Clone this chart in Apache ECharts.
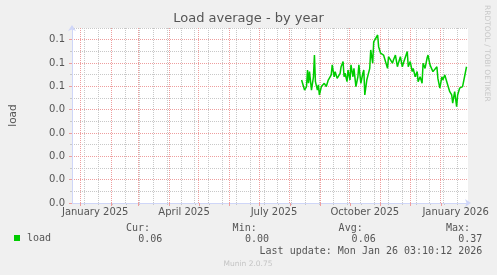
<!DOCTYPE html>
<html><head><meta charset="utf-8">
<script src="https://cdn.jsdelivr.net/npm/echarts@6/dist/echarts.min.js"></script>
<style>html,body{margin:0;padding:0;background:#f0f0f0}#c{width:497px;height:275px}</style>
</head><body><div id="c"></div>
<script>
// ---------- data ----------
const loadDates = [
'2025-08-13','2025-08-15','2025-08-16','2025-08-18','2025-08-19','2025-08-20','2025-08-21','2025-08-23','2025-08-25','2025-08-26',
'2025-08-27','2025-08-29','2025-08-30','2025-08-31','2025-09-02','2025-09-04','2025-09-05','2025-09-07','2025-09-09','2025-09-10',
'2025-09-12','2025-09-13','2025-09-15','2025-09-16','2025-09-18','2025-09-20','2025-09-21','2025-09-22','2025-09-24','2025-09-25',
'2025-09-26','2025-09-28','2025-09-29','2025-10-01','2025-10-02','2025-10-04','2025-10-05','2025-10-07','2025-10-09','2025-10-10',
'2025-10-12','2025-10-14','2025-10-15','2025-10-16','2025-10-18','2025-10-19','2025-10-21','2025-10-22','2025-10-24','2025-10-25',
'2025-10-27','2025-10-29','2025-10-30','2025-11-01','2025-11-03','2025-11-04','2025-11-06','2025-11-08','2025-11-09','2025-11-11',
'2025-11-13','2025-11-14','2025-11-16','2025-11-18','2025-11-19','2025-11-21','2025-11-23','2025-11-24','2025-11-26','2025-11-28',
'2025-11-29','2025-12-01','2025-12-03','2025-12-04','2025-12-06','2025-12-08','2025-12-09','2025-12-11','2025-12-13','2025-12-14',
'2025-12-16','2025-12-18','2025-12-19','2025-12-21','2025-12-23','2025-12-24','2025-12-26','2025-12-28','2025-12-29','2025-12-31',
'2026-01-02','2026-01-03','2026-01-05','2026-01-07','2026-01-08','2026-01-10','2026-01-12','2026-01-13','2026-01-15','2026-01-17',
'2026-01-18','2026-01-20','2026-01-22','2026-01-23','2026-01-25','2026-01-27'];
const loadValues = [
0.0527,0.0520,0.0484,0.0499,0.0570,0.0513,0.0563,0.0484,0.0541,0.0634,
0.0520,0.0484,0.0506,0.0463,0.0499,0.0492,0.0513,0.0499,0.0527,0.0527,
0.0549,0.0592,0.0541,0.0563,0.0534,0.0541,0.0556,0.0584,0.0606,0.0541,
0.0556,0.0520,0.0570,0.0527,0.0592,0.0541,0.0577,0.0499,0.0541,0.0592,
0.0513,0.0556,0.0570,0.0463,0.0527,0.0527,0.0577,0.0656,0.0599,0.0691,
0.0684,0.0720,0.0670,0.0642,0.0649,0.0634,0.0627,0.0577,0.0627,0.0634,
0.0599,0.0613,0.0634,0.0584,0.0599,0.0627,0.0584,0.0599,0.0606,0.0649,
0.0584,0.0606,0.0563,0.0577,0.0541,0.0563,0.0520,0.0541,0.0513,0.0599,
0.0577,0.0620,0.0634,0.0592,0.0599,0.0563,0.0556,0.0584,0.0534,0.0492,
0.0541,0.0527,0.0549,0.0520,0.0527,0.0477,0.0463,0.0428,0.0477,0.0413,
0.0463,0.0492,0.0484,0.0499,0.0541,0.0584];

const axisStart = '2024-12-23T12:00';
const axisEnd = '2026-01-28T12:00';
const monthStarts = ['2025-01-01','2025-02-01','2025-03-01','2025-04-01','2025-05-01','2025-06-01','2025-07-01',
  '2025-08-01','2025-09-01','2025-10-01','2025-11-01','2025-12-01','2026-01-01'];
const biweeklyMarks = ['2025-01-05','2025-01-19','2025-02-02','2025-02-16','2025-03-02','2025-03-16','2025-03-30',
  '2025-04-13','2025-04-27','2025-05-11','2025-05-25','2025-06-08','2025-06-22','2025-07-06','2025-07-20',
  '2025-08-03','2025-08-17','2025-08-31','2025-09-14','2025-09-28','2025-10-12','2025-10-26','2025-11-09',
  '2025-11-23','2025-12-07','2025-12-21','2026-01-04','2026-01-18'];
const quarterLabelDates = ['2025-01-16','2025-04-16','2025-07-16','2025-10-16','2026-01-16'];
const quarterLabels = ['January 2025','April 2025','July 2025','October 2025','January 2026'];

const yMajorTicks = [0.01,0.02,0.03,0.04,0.05,0.06,0.07];
const yMinorTicks = [0.005,0.015,0.025,0.035,0.045,0.055,0.065,0.075];
const yLabelTicks = [0,0.01,0.02,0.03,0.04,0.05,0.06,0.07];
const yTickLabels = ['0.0','0.0','0.0','0.0','0.0','0.1','0.1','0.1'];
const yMax = 0.075;

const seriesName = 'load';
const statHeaders = ['Cur:','Min:','Avg:','Max:'];
const statValues = ['0.06','0.00','0.06','0.37'];
const lastUpdate = 'Last update: Mon Jan 26 03:10:12 2026';
const footer = 'Munin 2.0.75';
const sideText = 'RRDTOOL / TOBI OETIKER';
const titleText = 'Load average - by year';

// ---------- helpers ----------
function ts(s){
  const [d,t] = s.split('T');
  const [y,m,dd] = d.split('-').map(Number);
  let h = 0, mi = 0;
  if (t) { [h,mi] = t.split(':').map(Number); }
  return Date.UTC(y, m-1, dd, h, mi);
}
const labelMap = {};
quarterLabelDates.forEach((d,i)=>{ labelMap[ts(d)] = quarterLabels[i]; });

const MAJ = '#ee9e9e';
const MINC = '#c8c8c8';
const AXC = '#cfd6f8';
const FONT = 'DejaVu Sans';
const MONO = 'DejaVu Sans Mono';
const TXT = '#555555';

const chart = echarts.init(document.getElementById('c'), null, {renderer:'canvas'});

const statX = [150, 256.7, 362.7, 470];
const valX = [162.3, 269, 375.7, 482.3];
const graphics = [];
statHeaders.forEach((h,i)=>graphics.push({type:'text', x:statX[i], y:228,
  style:{text:h, fill:TXT, font:'10px "'+MONO+'"', textAlign:'right', textVerticalAlign:'middle'}}));
statValues.forEach((v,i)=>graphics.push({type:'text', x:valX[i], y:239.5,
  style:{text:v, fill:TXT, font:'10px "'+MONO+'"', textAlign:'right', textVerticalAlign:'middle'}}));
graphics.push({type:'text', x:482.3, y:251,
  style:{text:lastUpdate, fill:TXT, font:'10px "'+MONO+'"', textAlign:'right', textVerticalAlign:'middle'}});
graphics.push({type:'text', x:248, y:264.5,
  style:{text:footer, fill:'#c4c4c4', font:'7.5px "'+FONT+'"', textAlign:'center', textVerticalAlign:'middle'}});
graphics.push({type:'text', x:487, y:5, rotation:-Math.PI/2,
  style:{text:sideText, fill:'#c8c8c8', font:'7.5px "'+FONT+'"', textAlign:'left', textVerticalAlign:'middle'}});

// grid lines drawn as a custom series through the axes' scales, snapped to whole pixels
function gridSeries(name, color, xs, ys, z){
  const data = [...xs.map(v=>[v, 0, 0]), ...ys.map(v=>[ts(axisStart), v, 1])];
  return {
    name:name, type:'custom', data:data, xAxisIndex:0, yAxisIndex:0, z:z, silent:true, clip:false,
    encode:{x:0, y:1},
    renderItem:function(params, api){
      const cs = params.coordSys;
      const horiz = api.value(2) === 1;
      let shape;
      if (!horiz) {
        const x = Math.round(api.coord([api.value(0), 0])[0] - 0.5) + 0.5;
        shape = {x1:x, y1:cs.y, x2:x, y2:cs.y + cs.height};
      } else {
        const y = Math.round(api.coord([ts(axisStart), api.value(1)])[1] - 0.5) + 0.5;
        shape = {x1:cs.x, y1:y, x2:cs.x + cs.width, y2:y};
      }
      return {type:'line', shape:shape, silent:true,
        style:{stroke:color, lineWidth:1, lineDash:[1,1]}};
    }
  };
}

const option = {
  backgroundColor:'#f0f0f0',
  animation:false,
  title:{text:titleText, left:'center', top:12, padding:0,
    textStyle:{fontFamily:FONT, fontSize:13, fontWeight:'normal', color:'#555555'}},
  legend:{data:[seriesName], left:14, top:233, padding:0, icon:'rect', itemWidth:6, itemHeight:6,
    textStyle:{fontFamily:MONO, fontSize:10, color:TXT, padding:[0,0,0,2]}},
  grid:{left:67, right:29, top:28, bottom:72, show:true, backgroundColor:'#ffffff', borderWidth:0},
  xAxis:[
    {type:'value', min:ts(axisStart), max:ts(axisEnd), position:'bottom', z:3,
      axisLine:{show:true, lineStyle:{color:AXC, width:1}, symbol:['none','arrow'], symbolSize:[6,6], symbolOffset:[0,3]},
      axisTick:{show:true, customValues:monthStarts.map(ts), length:3, lineStyle:{color:MAJ}},
      splitLine:{show:false},
      axisLabel:{show:true, customValues:quarterLabelDates.map(ts), margin:4, fontFamily:FONT, fontSize:10, color:TXT,
        formatter:v=>labelMap[v] || ''}},
    {type:'value', min:ts(axisStart), max:ts(axisEnd), position:'bottom', z:2,
      axisLine:{show:false},
      axisTick:{show:true, customValues:biweeklyMarks.map(ts), length:2, lineStyle:{color:MINC}},
      splitLine:{show:false},
      axisLabel:{show:false}}
  ],
  yAxis:[
    {type:'value', min:0, max:yMax, position:'left', z:3,
      name:seriesName, nameLocation:'middle', nameRotate:90, nameGap:53,
      nameTextStyle:{fontFamily:FONT, fontSize:10.5, color:TXT},
      axisLine:{show:true, lineStyle:{color:AXC, width:1}, symbol:['none','arrow'], symbolSize:[6,6], symbolOffset:[0,3]},
      axisTick:{show:true, customValues:yLabelTicks, length:3, lineStyle:{color:MAJ}},
      splitLine:{show:false},
      axisLabel:{show:true, customValues:yLabelTicks, margin:7, fontFamily:FONT, fontSize:10, color:TXT,
        formatter:v=>yTickLabels[Math.round(v*100)]}},
    {type:'value', min:0, max:yMax, position:'left', z:2,
      axisLine:{show:false},
      axisTick:{show:true, customValues:yMinorTicks, length:2, lineStyle:{color:MINC}},
      splitLine:{show:false},
      axisLabel:{show:false}}
  ],
  series:[
    gridSeries('minorGrid', MINC, biweeklyMarks.map(ts), yMinorTicks, 1),
    gridSeries('majorGrid', MAJ, monthStarts.map(ts), yMajorTicks, 2),
    {
      name:seriesName, type:'line', xAxisIndex:0, yAxisIndex:0,
      data:loadDates.map((d,i)=>[ts(d), loadValues[i]]),
      showSymbol:false, symbol:'none', smooth:false, z:5,
      lineStyle:{color:'#00cc00', width:1.5}, itemStyle:{color:'#00cc00'}
    }
  ],
  graphic:graphics
};
chart.setOption(option);
</script>
</body></html>
